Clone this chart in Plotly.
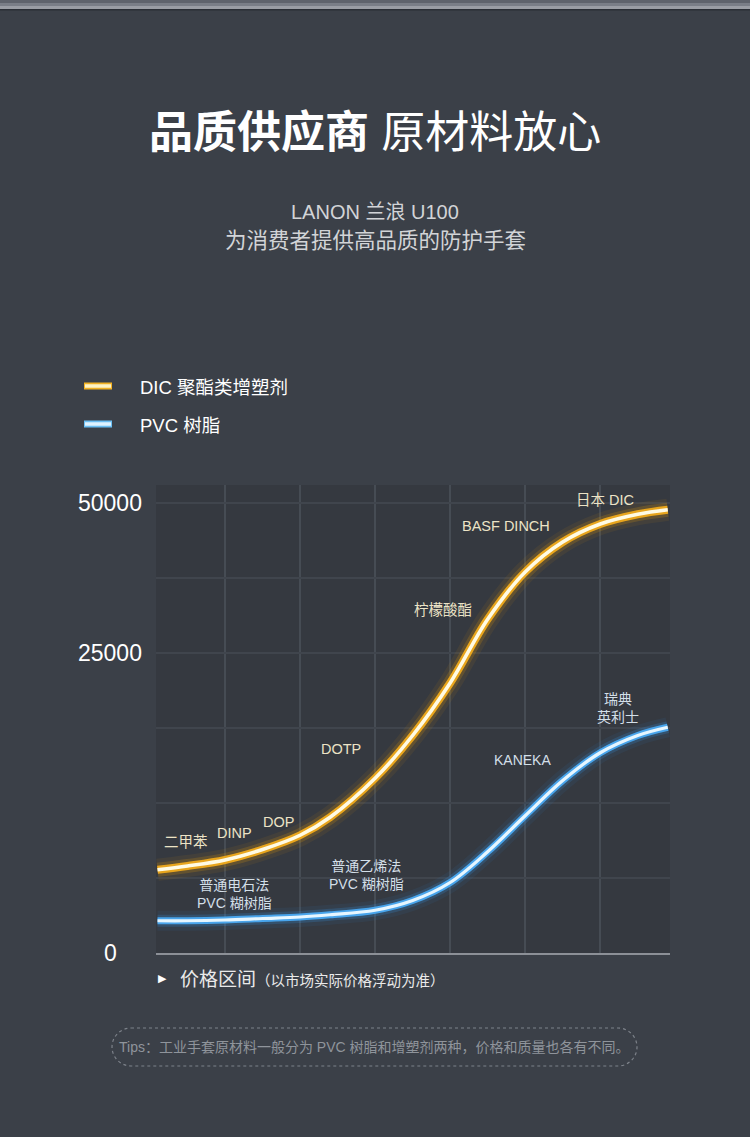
import plotly.graph_objects as go

# ---- data (x = price band, y = grid units) ----
price_x = [0.1, 0.5, 1.0, 1.5, 2.0, 2.4, 3.0, 3.5, 4.0, 4.5, 5.0, 5.5, 6.0, 6.5, 6.9]
dic_y = [1.11, 1.16, 1.24, 1.38, 1.57, 1.81, 2.33, 2.9, 3.6, 4.45, 5.08, 5.48, 5.72, 5.85, 5.91]
pvc_y = [0.43, 0.43, 0.44, 0.46, 0.48, 0.51, 0.57, 0.7, 0.94, 1.35, 1.83, 2.3, 2.67, 2.9, 3.01]

y_tick_vals = [0, 4, 6]
y_tick_text = ["0", "25000", "50000"]

dic_labels = ["二甲苯", "DINP", "DOP", "DOTP", "柠檬酸酯", "BASF DINCH", "日本 DIC"]
pvc_labels = ["普通电石法<br>PVC 糊树脂", "普通乙烯法<br>PVC 糊树脂", "KANEKA", "瑞典<br>英利士"]

series_names = ["DIC 聚酯类增塑剂", "PVC 树脂"]

# where each label sits (same units as the axes)
dic_label_pos = [(0.48, 1.48), (1.13, 1.60), (1.71, 1.75), (2.55, 2.72),
                 (3.91, 4.57), (4.74, 5.69), (6.06, 6.04)]
pvc_label_pos = [(1.13, 0.79), (2.88, 1.04), (4.96, 2.57), (6.24, 3.27)]

W, H = 750, 1137
L, R, T, B = 156, 80, 485, 184
PW, PH = W - L - R, H - T - B

FONT = "Liberation Sans, Noto Sans CJK SC"
BG = "#3b4048"


def px(x):
    return (x - L) / PW


def py(y):
    return (H - B - y) / PH


def note(x, y, text, size, color, xanchor="center", family=FONT):
    # paper-positioned text, given in page pixels
    fig.add_annotation(x=px(x), y=py(y), xref="paper", yref="paper",
                       text=text, showarrow=False,
                       xanchor=xanchor, yanchor="middle",
                       font=dict(family=family, size=size, color=color))


fig = go.Figure()

# glow layers: (width, colour, opacity), drawn back to front
dic_glow = [(22, "#f5a000", 0.07), (14, "#f5a300", 0.18), (8, "#f0aa1c", 0.95), (3.6, "#fffbe4", 1)]
pvc_glow = [(20, "#2a8ce8", 0.07), (12, "#3598ee", 0.2), (7, "#4aa9f2", 0.95), (3.2, "#e6f6ff", 1)]

for ys, glow in ((pvc_y, pvc_glow), (dic_y, dic_glow)):
    for w, c, o in glow:
        fig.add_trace(go.Scatter(
            x=price_x, y=ys, mode="lines",
            line=dict(color=c, width=w, shape="spline", smoothing=1.0),
            opacity=o, hoverinfo="skip", showlegend=False,
        ))

# labels along the curves
for txt, (lx, ly) in zip(dic_labels, dic_label_pos):
    fig.add_annotation(x=lx, y=ly, text=txt, showarrow=False,
                       font=dict(family=FONT, size=14.5, color="#ece3c6"))
for txt, (lx, ly) in zip(pvc_labels, pvc_label_pos):
    fig.add_annotation(x=lx, y=ly, text=txt, showarrow=False,
                       font=dict(family=FONT, size=14, color="#d3dfe8"))

# y tick labels, centred like the original
for v, t in zip(y_tick_vals, y_tick_text):
    fig.add_annotation(x=px(110), xref="paper", y=v, yref="y", text=t,
                       showarrow=False, xanchor="center",
                       font=dict(family="Liberation Sans", size=23, color="#ffffff"))

# title block
note(375, 132, "<b>品质供应商</b> 原材料放心", 44, "#ffffff")
note(375, 212, "LANON 兰浪 U100", 20, "#d2d4d7")
note(375, 241, "为消费者提供高品质的防护手套", 21.5, "#d2d4d7")

# legend
legend_rows = [(386, "#f2b224", "#fff4c4"), (424, "#6cc0f4", "#dff3ff")]
for name, (ly, edge, core) in zip(series_names, legend_rows):
    fig.add_shape(type="line", xref="paper", yref="paper",
                  x0=px(84), x1=px(112), y0=py(ly), y1=py(ly),
                  line=dict(color=edge, width=7))
    fig.add_shape(type="line", xref="paper", yref="paper",
                  x0=px(85), x1=px(111), y0=py(ly), y1=py(ly),
                  line=dict(color=core, width=3.5))
    note(138, ly + 1, name, 18.5, "#ffffff", xanchor="left")

# x axis caption
note(156, 978, "▶", 11, "#ffffff", xanchor="left", family="DejaVu Sans")
note(178, 979, "价格区间<span style='font-size:14.5px'>（以市场实际价格浮动为准）</span>",
     19, "#eaeaea", xanchor="left")

# tips pill with dotted outline
x0, x1, y0, y1, r = 112, 637, 1028, 1066, 19
k = 0.55 * r
ym = (y0 + y1) / 2
pts = [
    ("M", [(x0 + r, y0)]),
    ("L", [(x1 - r, y0)]),
    ("C", [(x1 - r + k, y0), (x1, ym - k), (x1, ym)]),
    ("C", [(x1, ym + k), (x1 - r + k, y1), (x1 - r, y1)]),
    ("L", [(x0 + r, y1)]),
    ("C", [(x0 + r - k, y1), (x0, ym + k), (x0, ym)]),
    ("C", [(x0, ym - k), (x0 + r - k, y0), (x0 + r, y0)]),
]
path = ""
for cmd, cs in pts:
    path += cmd + " ".join(f"{px(a):.5f},{py(b):.5f}" for a, b in cs) + " "
fig.add_shape(type="path", xref="paper", yref="paper", path=path + "Z",
              line=dict(color="#7d828a", width=1.2, dash="dot"))
note(374, 1047, "Tips：工业手套原材料一般分为 PVC 树脂和增塑剂两种，价格和质量也各有不同。",
     14, "#8f949b")

# thin light strip along the top edge
for a, b, c in ((0, 3, "#5f636c"), (3, 6, "#7a7e87"), (6, 9, "#9a9da4"), (9, 10.5, "#2a2e35")):
    fig.add_shape(type="rect", xref="paper", yref="paper",
                  x0=px(0), x1=px(W), y0=py(a), y1=py(b),
                  fillcolor=c, line=dict(width=0), layer="above")

fig.update_xaxes(range=[0.08, 6.93], tickvals=[1, 2, 3, 4, 5, 6],
                 showticklabels=False, ticks="",
                 showgrid=True, gridcolor="#464c54", gridwidth=2,
                 zeroline=False, showline=True, linecolor="#8c9097", linewidth=2)
fig.update_yaxes(range=[0, PH / 75], tickvals=[1, 2, 3, 4, 5, 6],
                 showticklabels=False, ticks="",
                 showgrid=True, gridcolor="#40454d", gridwidth=2,
                 zeroline=False, showline=False)

fig.update_layout(
    width=W, height=H,
    margin=dict(l=L, r=R, t=T, b=B, autoexpand=False),
    paper_bgcolor=BG, plot_bgcolor="#353940",
    showlegend=False,
    font=dict(family=FONT),
)

fig.write_html("out.html", config={"displayModeBar": False},
               post_script="document.body.style.margin='0px';")
